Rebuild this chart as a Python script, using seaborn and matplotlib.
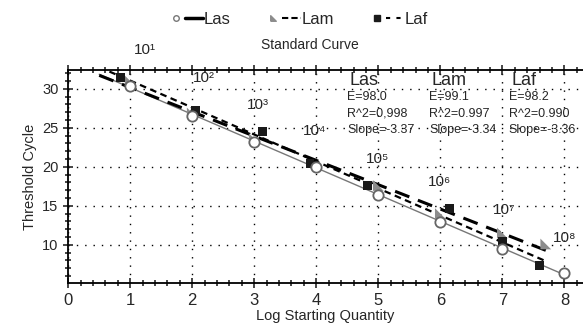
import numpy as np
import pandas as pd
import seaborn as sns
import matplotlib.pyplot as plt
from matplotlib.lines import Line2D
from matplotlib.path import Path
from matplotlib.legend_handler import HandlerTuple
from matplotlib.ticker import MultipleLocator

# values
las_x = [1, 2, 3, 4, 5, 6, 7, 8]
las_y = [30.4, 26.5, 23.2, 20.0, 16.4, 12.9, 9.4, 6.4]
lam_x = [1, 2, 3, 4, 5, 6, 7, 7.7]
lam_y = [31.0, 26.9, 23.6, 20.3, 17.6, 14.0, 11.5, 10.1]
laf_x = [0.84, 2.05, 3.13, 3.9, 4.82, 6.15, 7.0, 7.6]
laf_y = [31.4, 27.2, 24.5, 20.4, 17.6, 14.6, 10.4, 7.3]

dil_labels = ["10¹", "10²", "10³", "10⁴", "10⁵", "10⁶", "10⁷", "10⁸"]
dil_x = [1.23, 2.19, 3.05, 3.97, 4.98, 5.98, 7.03, 8.0]
dil_y = [35.0, 31.4, 27.9, 24.6, 21.0, 18.1, 14.4, 10.9]

stats = {
    "Las": ["E=98.0", "R^2=0,998", "Slope=-3.37"],
    "Lam": ["E=99.1", "R^2=0.997", "Slope=-3.34"],
    "Laf": ["E=98.2", "R^2=0.990", "Slope=-3.36"],
}
stat_x = [4.5, 5.82, 7.1]

sns.set_style("white")
plt.rcParams["font.family"] = ["Liberation Sans", "DejaVu Sans"]

fig = plt.figure(figsize=(5.83, 3.26), dpi=100)
ax = fig.add_axes([0.117, 0.132, 0.883, 0.653])

df = pd.concat([
    pd.DataFrame({"x": las_x, "y": las_y, "s": "Las"}),
    pd.DataFrame({"x": lam_x, "y": lam_y, "s": "Lam"}),
    pd.DataFrame({"x": laf_x, "y": laf_y, "s": "Laf"}),
])

# regression lines
line_style = {
    "Las": dict(color="#777777", lw=1.0, ls="-"),
    "Lam": dict(color="black", lw=2.2, ls=(0, (5, 3))),
    "Laf": dict(color="black", lw=1.6, ls=(0, (3, 2))),
}
line_end = {"Las": 8.0, "Lam": 7.7, "Laf": 7.7}
for name in ["Las", "Lam", "Laf"]:
    sub = df[df.s == name]
    k, b = np.polyfit(sub.x, sub.y, 1)
    xx = np.array([0.5, line_end[name]])
    sns.lineplot(x=xx, y=k * xx + b, ax=ax, **line_style[name])

tri = Path([(-1, -1), (1, -1), (-1, 1), (-1, -1)])
sns.scatterplot(data=df[df.s == "Las"], x="x", y="y", ax=ax, marker="o", s=55,
                facecolor="white", edgecolor="#666666", linewidth=1.3, zorder=5)
sns.scatterplot(data=df[df.s == "Lam"], x="x", y="y", ax=ax, marker=tri, s=60,
                color="#8c8c8c", edgecolor="none", zorder=4)
sns.scatterplot(data=df[df.s == "Laf"], x="x", y="y", ax=ax, marker="s", s=40,
                color="#1a1a1a", edgecolor="none", zorder=4)

for lab, x, y in zip(dil_labels, dil_x, dil_y):
    ax.text(x, y, lab, fontsize=11, ha="center", va="center", clip_on=False)

for name, x in zip(stats, stat_x):
    ax.text(x + 0.04, 31.1, name, fontsize=13, ha="left", va="center")
    for i, s in enumerate(stats[name]):
        ax.text(x, 28.9 - 2.1 * i, s, fontsize=9, ha="left", va="center")

ax.set_xlim(0, 8.3)
ax.set_ylim(5.1, 32.4)
ax.xaxis.set_major_locator(MultipleLocator(1))
ax.xaxis.set_minor_locator(MultipleLocator(0.2))
ax.yaxis.set_minor_locator(MultipleLocator(1))
ax.set_yticks([10, 15, 20, 25, 30])
ax.grid(True, which="major", ls=(0, (1, 5)), color="black", lw=1.0)
ax.tick_params(which="both", direction="inout", top=True, left=True, bottom=True,
               labelsize=12, width=1.2)
ax.tick_params(which="major", length=7)
ax.tick_params(which="minor", length=4)
ax.tick_params(axis="y", labelsize=10.5)
for sp in ["left", "bottom", "top"]:
    ax.spines[sp].set_color("black")
    ax.spines[sp].set_linewidth(1.3)
ax.spines["right"].set_visible(False)
ax.set_xlabel("Log Starting Quantity", fontsize=10.5, labelpad=1)
ax.set_ylabel("Threshold Cycle", fontsize=10.5)

h_las = (Line2D([], [], marker="o", ls="none", mfc="white", mec="#777777", ms=4),
         Line2D([], [], color="black", lw=2.5))
h_lam = (Line2D([], [], marker=tri, ls="none", color="#8c8c8c", ms=4),
         Line2D([], [], color="black", lw=1.5, ls=(0, (3, 1.5))))
h_laf = (Line2D([], [], marker="s", ls="none", color="#1a1a1a", ms=5),
         Line2D([], [], color="black", lw=1.5, ls=(0, (2, 3))))
fig.legend([h_las, h_lam, h_laf], ["Las", "Lam", "Laf"], ncol=3, frameon=False,
           loc="center", bbox_to_anchor=(0.51, 0.94), fontsize=12,
           handler_map={tuple: HandlerTuple(ndivide=None, pad=0.0)},
           handlelength=2.2, handletextpad=0.05, columnspacing=2.0)
fig.text(0.532, 0.862, "Standard Curve", fontsize=10, ha="center", va="center")

fig.savefig("out.png", dpi=100)
